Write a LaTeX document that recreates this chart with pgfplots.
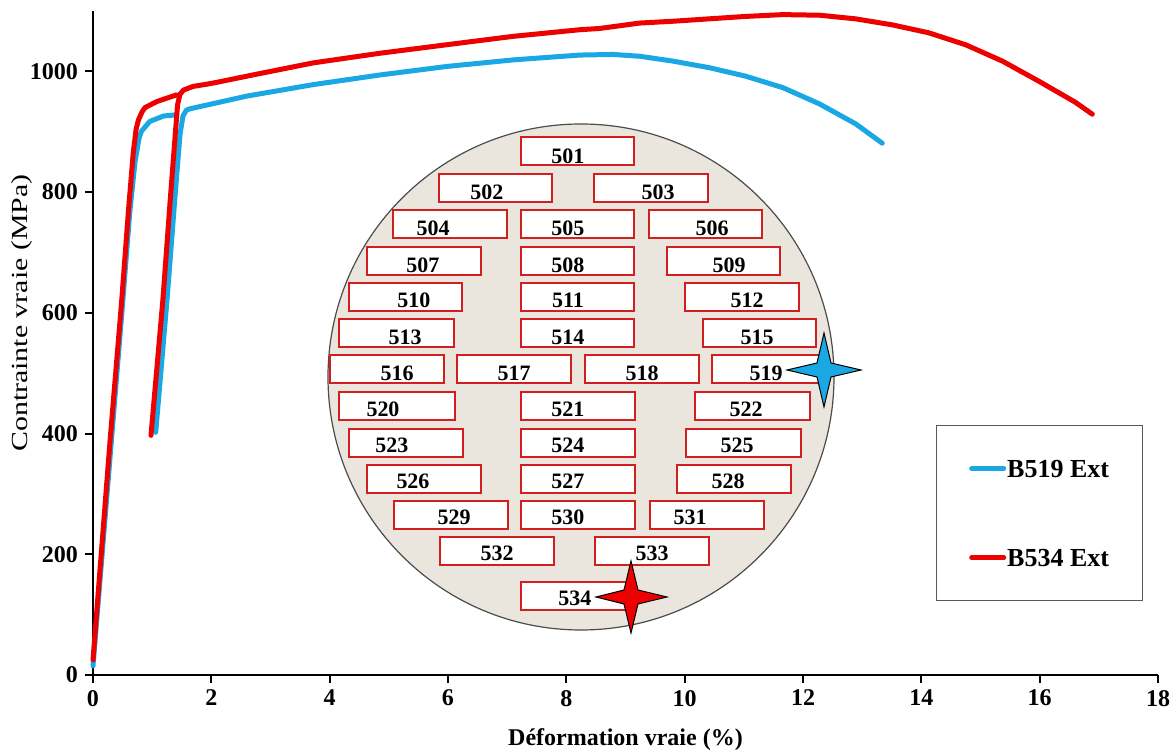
\documentclass[border=0pt]{standalone}
\usepackage{fontspec}
\setmainfont{Liberation Serif}
\usepackage{graphicx}
\usepackage{pgfplots}
\pgfplotsset{compat=1.18}
\definecolor{cblue}{RGB}{26,168,228}
\definecolor{cred}{RGB}{236,0,0}
\definecolor{boxred}{RGB}{210,30,30}
\definecolor{wafer}{RGB}{234,230,222}
\begin{document}
\begin{tikzpicture}
\path[use as bounding box] (-46.5pt,-39.5pt) rectangle (541pt,337.5pt);
\begin{axis}[
  at={(0pt,0pt)}, anchor=south west,
  scale only axis, width=532.5pt, height=332pt,
  xmin=0, xmax=18, ymin=0, ymax=1100,
  axis lines=left,
  axis line style={-, line width=1pt},
  xtick={0,2,...,18}, ytick={0,200,...,1000},
  tick align=outside, major tick length=4pt,
  tick style={line width=1pt, black},
  /pgf/number format/assume math mode=true,
  /pgf/number format/1000 sep={},
  ticklabel style={font=\fontsize{12}{14}\selectfont\bfseries},
  xlabel={Déformation vraie (\%)},
  ylabel={\scalebox{1.3}[1]{Contrainte vraie (MPa)}},
  xlabel style={font=\fontsize{12}{14}\selectfont\bfseries, at={(axis description cs:0.5,-0.0979)}, anchor=center},
  ylabel style={font=\fontsize{11.5}{14}\selectfont, at={(axis description cs:-0.0667,0.545)}, anchor=center},
  unbounded coords=jump,
  legend cell align=left,
  legend style={at={(0.7915,0.3765)}, anchor=north west, draw=black!65, line width=0.7pt, fill=white,
    minimum width=103pt, minimum height=87.5pt, inner sep=0pt, row sep=35pt,
    font=\fontsize{13}{15}\selectfont\bfseries,
    nodes={minimum width=0pt, minimum height=0pt, inner sep=0.5pt, text depth=0pt}},
  legend image code/.code={\draw[#1, line width=2.5pt] (0pt,0pt) -- (16pt,0pt);},
  clip=false,
]
\addplot[cblue, line width=2.5pt, line join=round, line cap=round] coordinates {
(0,15) (0.5,615) (0.62,765) (0.71,850) (0.78,890) (0.82,901) (0.96,917) (1.19,926) (1.41,928)
(1.41,nan)
(1.06,402) (1.25,620) (1.38,785) (1.47,895) (1.52,926) (1.58,936) (1.64,938) (2.6,959) (3.72,978)
(4.85,994) (5.97,1008) (7.10,1019) (8.23,1027) (8.79,1028) (9.24,1025) (9.80,1017) (10.42,1006)
(11.03,992) (11.66,973) (12.28,946) (12.89,913) (13.34,881)
};
\addlegendentry{B519 Ext}
\addplot[cred, line width=2.5pt, line join=round, line cap=round] coordinates {
(0,25) (0.29,390) (0.485,620) (0.60,770) (0.68,865) (0.73,905) (0.77,920) (0.83,933) (0.88,940)
(1.0,946) (1.08,950) (1.2,954) (1.41,961)
(1.41,nan)
(0.98,397) (1.18,620) (1.30,780) (1.39,895) (1.43,945) (1.47,962) (1.53,969) (1.69,975) (2.0,980)
(2.6,992) (3.16,1003) (3.72,1014) (4.85,1030) (5.97,1044) (7.10,1058) (8.23,1069) (8.56,1071)
(9.24,1080) (9.80,1083) (11.03,1091) (11.66,1094) (12.28,1093) (12.89,1087) (13.51,1077)
(14.12,1064) (14.75,1044) (15.37,1017) (15.98,984) (16.60,949) (16.89,929)
};
\addlegendentry{B534 Ext}
\end{axis}
\begin{scope}[x=0.5pt, y=-0.5pt, shift={(-93,-675)}]
\filldraw[fill=wafer, draw=black!70, line width=0.6pt] (581,377) circle [radius=126.5pt];
\foreach \l/\r/\t in {521/634/137, 439/552/174, 594/708/174, 393/507/210, 521/634/210, 649/762/210,
  367/481/247, 521/634/247, 667/780/247, 349/462/283, 521/634/283, 685/799/283,
  339/454/319, 521/634/319, 703/816/319, 330/444/355, 457/571/355, 585/699/355, 712/826/355,
  339/455/392, 521/635/392, 695/810/392, 349/463/429, 521/635/429, 686/801/429,
  367/481/465, 521/635/465, 677/791/465, 394/508/501, 521/635/501, 650/764/501,
  440/554/537, 595/709/537, 521/635/582}
  {\filldraw[fill=white, draw=boxred, line width=1pt] (\l,\t) rectangle (\r,\t+28);}
\foreach \n/\x/\y in {501/568/156, 502/487/192, 503/658/192, 504/433/228, 505/568/228, 506/712/228,
  507/423/265, 508/568/265, 509/729/265, 510/414/300, 511/568/300, 512/747/300,
  513/405/337, 514/568/337, 515/757/337, 516/397/373, 517/514/373, 518/642/373, 519/766/373,
  520/383/409, 521/568/409, 522/746/409, 523/392/445, 524/568/445, 525/737/445,
  526/413/481, 527/568/481, 528/728/481, 529/454/517, 530/568/517, 531/690/517,
  532/497/553, 533/652/553, 534/575/598}
  {\node[font=\fontsize{11}{12}\selectfont\bfseries, inner sep=0pt] at (\x,\y) {\n};}
\filldraw[fill=cblue, draw=black, line width=0.5pt] (824,333) -- (831,363) -- (861,370) -- (831,377) -- (824,407) -- (817,377) -- (787,370) -- (817,363) -- cycle;
\filldraw[fill=cred, draw=black, line width=0.5pt] (631,561) -- (638,590) -- (667,597) -- (638,604) -- (631,633) -- (624,604) -- (596,597) -- (624,590) -- cycle;
\end{scope}
\end{tikzpicture}
\end{document}
